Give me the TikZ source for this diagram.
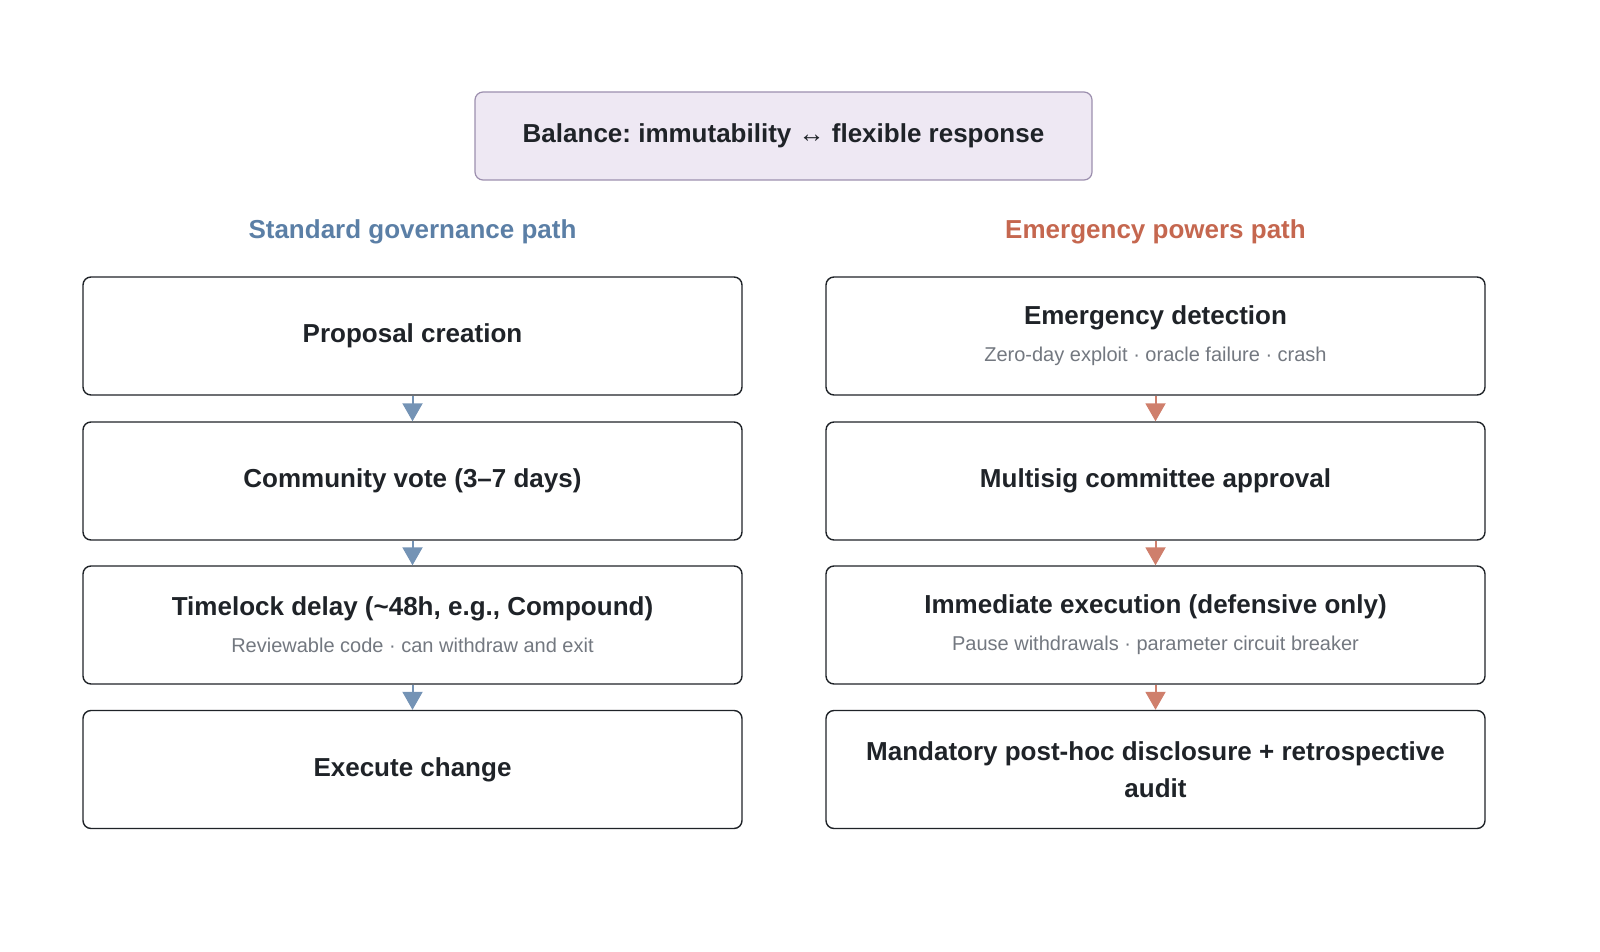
\documentclass[tikz,border=0pt]{standalone}
\usepackage{fontspec}
\setmainfont{Liberation Sans}
\usetikzlibrary{arrows.meta}
\frenchspacing
\definecolor{inkdark}{HTML}{1F2328}
\definecolor{inkgray}{HTML}{737880}
\definecolor{stdblue}{HTML}{5B7FA6}
\definecolor{stdarrow}{HTML}{7493B5}
\definecolor{emgred}{HTML}{C5674F}
\definecolor{emgarrow}{HTML}{CF7F6C}
\definecolor{balfill}{HTML}{EEE8F3}
\definecolor{balline}{HTML}{9C8FAE}
\newcommand{\subline}[1]{{\fontsize{10}{12}\selectfont\mdseries\color{inkgray}#1}}
\begin{document}
\begin{tikzpicture}[x=0.5pt,y=0.5pt,yscale=-1,xscale=1,
  stepbox/.style={draw=inkdark, line width=0.7pt, rounded corners=4pt, fill=white,
    minimum width=329.5pt, minimum height=59pt, align=center, text=inkdark,
    font=\fontsize{13}{18.5}\selectfont\bfseries},
  balbox/.style={draw=balline, line width=0.6pt, rounded corners=4pt, fill=balfill,
    minimum width=308.5pt, minimum height=44pt, text=inkdark,
    font=\fontsize{13}{16}\selectfont\bfseries},
  pathhead/.style={font=\fontsize{13}{16}\selectfont\bfseries},
  stdflow/.style={draw=stdarrow, line width=1pt, -{Triangle[width=10pt,length=9pt]}},
  emgflow/.style={draw=emgarrow, line width=1pt, -{Triangle[width=10pt,length=9pt]}}]
\useasboundingbox (0,0) rectangle (1600,952);

% Balance box
\node [balbox] (balance) at (783.5,136) {Balance: immutability ↔ flexible response};

% Path headings
\node [pathhead, text=stdblue] (stdhead) at (412.5,232) {Standard governance path};
\node [pathhead, text=emgred] (emghead) at (1155.5,232) {Emergency powers path};

% Standard path
\node [stepbox] (propose) at (412.5,336) {Proposal creation};
\node [stepbox] (vote) at (412.5,481) {Community vote (3–7 days)};
\node [stepbox] (timelock) at (412.5,625) {Timelock delay (\textasciitilde48h, e.g., Compound)\\\subline{Reviewable code · can withdraw and exit}};
\node [stepbox] (execute) at (412.5,769.5) {Execute change};

% Emergency path
\node [stepbox] (detect) at (1155.5,336) {Emergency detection\\\subline{Zero-day exploit · oracle failure · crash}};
\node [stepbox] (multisig) at (1155.5,481) {Multisig committee approval};
\node [stepbox] (immediate) at (1155.5,625) {Immediate execution (defensive only)\\\subline{Pause withdrawals · parameter circuit breaker}};
\node [stepbox] (disclose) at (1155.5,769.5) {Mandatory post-hoc disclosure + retrospective\\audit};

% Arrows
\draw [stdflow] (propose) -- (vote);
\draw [stdflow] (vote) -- (timelock);
\draw [stdflow] (timelock) -- (execute);
\draw [emgflow] (detect) -- (multisig);
\draw [emgflow] (multisig) -- (immediate);
\draw [emgflow] (immediate) -- (disclose);

\end{tikzpicture}
\end{document}
